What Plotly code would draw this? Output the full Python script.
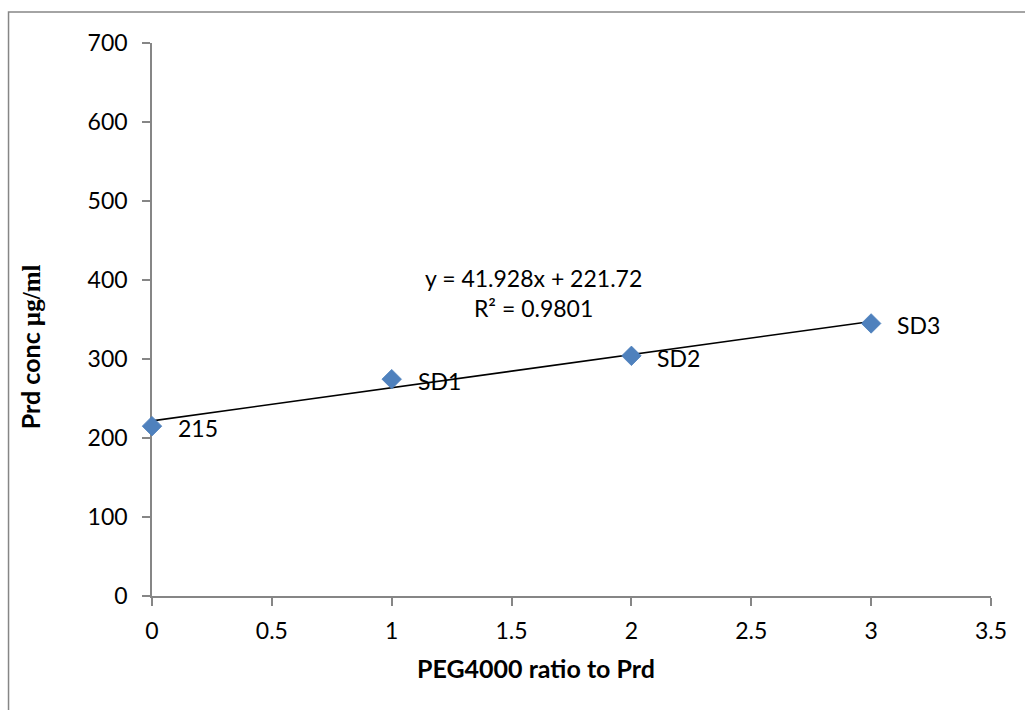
import plotly.graph_objects as go

# PEG4000 : Prd ratio vs. measured Prd concentration
ratio = [0, 1, 2, 3]
conc = [215, 274.5, 304, 345]
point_labels = ["215", "SD1", "SD2", "SD3"]

# Linear trendline reported for the series
slope = 41.928
intercept = 221.72
r_squared = 0.9801

x_ticks = [0, 0.5, 1, 1.5, 2, 2.5, 3, 3.5]
x_tick_text = ["0", "0.5", "1", "1.5", "2", "2.5", "3", "3.5"]
y_ticks = [0, 100, 200, 300, 400, 500, 600, 700]

FONT = "Lato"
SIZE = 23
TITLE_SIZE = 25
AXIS_GREY = "#868686"
MARKER_BLUE = "#4F81BD"

fig = go.Figure()

trend_x = [ratio[0], ratio[-1]]
trend_y = [intercept + slope * v for v in trend_x]
fig.add_trace(go.Scatter(
    x=trend_x, y=trend_y, mode="lines",
    line=dict(color="black", width=1.6),
    hoverinfo="skip", showlegend=False, cliponaxis=False,
))

fig.add_trace(go.Scatter(
    x=ratio, y=conc, mode="markers",
    marker=dict(symbol="diamond", size=15, color=MARKER_BLUE,
                line=dict(color="#4A7EBB", width=0.8)),
    showlegend=False, cliponaxis=False,
))

annotations = []
for xv, yv, lab in zip(ratio, conc, point_labels):
    annotations.append(dict(
        x=xv, y=yv, xref="x", yref="y", text=lab, showarrow=False,
        xanchor="left", yanchor="middle", xshift=24, yshift=-2,
        font=dict(family=FONT, size=SIZE, color="black"),
    ))

annotations.append(dict(
    x=1.59, y=383, xref="x", yref="y",
    text=f"y = {slope}x + {intercept}<br>R² = {r_squared}",
    showarrow=False, xanchor="center", yanchor="middle", align="center",
    font=dict(family=FONT, size=SIZE, color="black"),
))

# axis titles
annotations.append(dict(
    x=0.4577, y=-0.130, xref="paper", yref="paper",
    text="<b>PEG4000 ratio to Prd</b>",
    showarrow=False, xanchor="center", yanchor="middle",
    font=dict(family=FONT, size=TITLE_SIZE, color="black"),
))
annotations.append(dict(
    x=-0.1454, y=0.45, xref="paper", yref="paper",
    text=("<span style=\"font-family:Lato\"><b>Prd conc </b></span>"
          "<span style=\"font-family:Liberation Serif\"><b>µg/ml</b></span>"),
    textangle=-90, showarrow=False, xanchor="center", yanchor="middle",
    font=dict(family=FONT, size=TITLE_SIZE, color="black"),
))

fig.update_layout(
    width=1025, height=710,
    margin=dict(l=152, r=34, t=43, b=114),
    paper_bgcolor="white", plot_bgcolor="white",
    font=dict(family=FONT, size=SIZE, color="black"),
    annotations=annotations,
    shapes=[dict(
        type="rect", xref="paper", yref="paper",
        x0=-0.171, y0=1.056, x1=1.3, y1=-0.4,
        line=dict(color=AXIS_GREY, width=1.5), layer="below",
    )],
    xaxis=dict(
        range=[0, 3.5], tickvals=x_ticks, ticktext=x_tick_text,
        showgrid=False, zeroline=False, showline=True,
        linecolor=AXIS_GREY, linewidth=1.5, layer="below traces",
        ticks="outside", ticklen=8, tickcolor=AXIS_GREY, tickwidth=1.5,
        tickfont=dict(family=FONT, size=SIZE, color="black"),
        ticklabelstandoff=6,
    ),
    yaxis=dict(
        range=[0, 700], tickvals=y_ticks,
        showgrid=False, zeroline=False, showline=True,
        linecolor=AXIS_GREY, linewidth=1.5, layer="below traces",
        ticks="outside", ticklen=8, tickcolor=AXIS_GREY, tickwidth=1.5,
        tickfont=dict(family=FONT, size=SIZE, color="black"),
        ticklabelstandoff=10,
    ),
)

fig.write_html("out.html")
